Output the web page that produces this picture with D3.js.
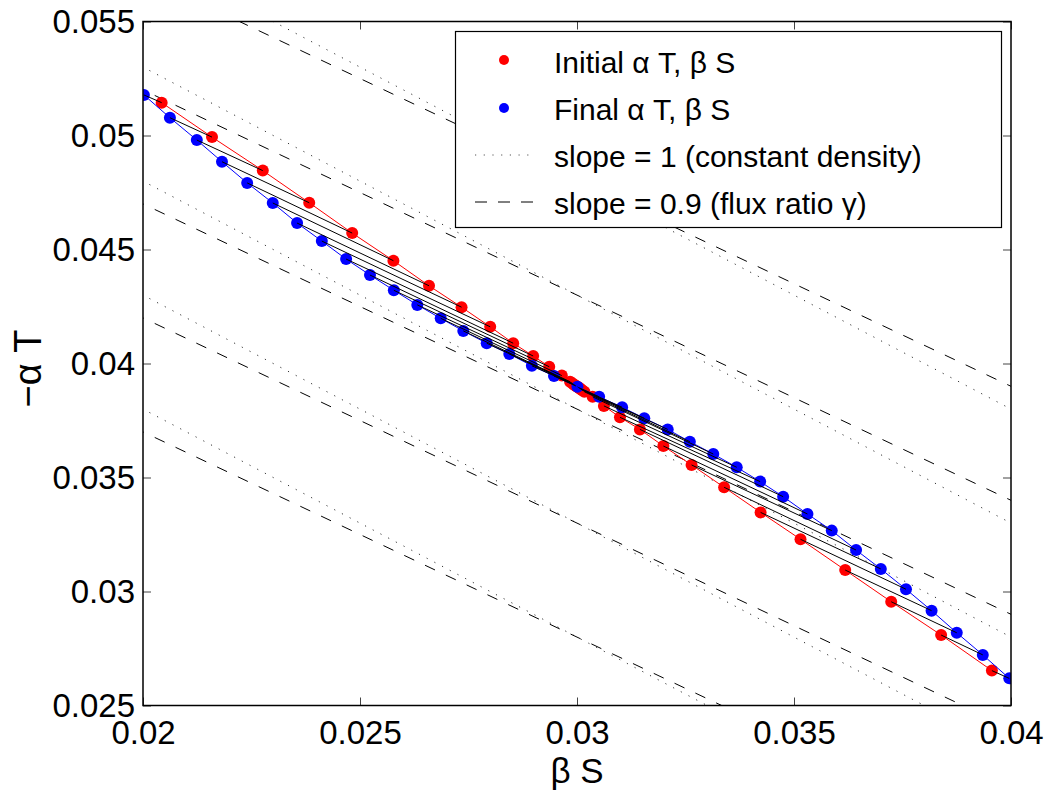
<!DOCTYPE html>
<html>
<head>
<meta charset="utf-8">
<script src="https://cdn.jsdelivr.net/npm/d3@7"></script>
<style>
  html, body { margin: 0; padding: 0; background: #fff; }
  svg { display: block; font-family: "Liberation Sans", Arial, sans-serif; }
</style>
</head>
<body>
<svg id="chart" width="1053" height="790"></svg>
<script>
// Initial profile (beta S, -alpha T)
const initialBetaS = [0.02043, 0.02159, 0.02276, 0.02383, 0.02482, 0.02577, 0.02659, 0.02734, 0.02800, 0.02853, 0.02899, 0.02936, 0.02965, 0.02984,
  0.02988, 0.02992, 0.02995, 0.02998, 0.03000, 0.03003, 0.03006, 0.03009, 0.03012,
  0.03017, 0.03036, 0.03062, 0.03099, 0.03145, 0.03199, 0.03264, 0.03339, 0.03423, 0.03515, 0.03618, 0.03724, 0.03839, 0.03956];
const initialAlphaT = [0.05144, 0.04993, 0.04846, 0.04705, 0.04572, 0.04451, 0.04341, 0.04247, 0.04161, 0.04089, 0.04033, 0.03986, 0.03947, 0.03920,
  0.03915, 0.03909, 0.03905, 0.03901, 0.03899, 0.03895, 0.03891, 0.03887, 0.03883,
  0.03876, 0.03854, 0.03814, 0.03764, 0.03711, 0.03638, 0.03555, 0.03457, 0.03347, 0.03229, 0.03094, 0.02955, 0.02809, 0.02653];

// Final profile (beta S, -alpha T)
const finalBetaS = [0.02002, 0.02062, 0.02124, 0.02182, 0.02240, 0.02299, 0.02355, 0.02412, 0.02468, 0.02523, 0.02578, 0.02632, 0.02686, 0.02738,
  0.02792, 0.02844, 0.02896, 0.02947, 0.03001, 0.03051, 0.03104, 0.03155, 0.03209, 0.03260, 0.03314, 0.03368, 0.03422, 0.03475,
  0.03531, 0.03587, 0.03643, 0.03700, 0.03758, 0.03817, 0.03875, 0.03935, 0.03996];
const finalAlphaT = [0.05178, 0.05078, 0.04980, 0.04885, 0.04792, 0.04704, 0.04616, 0.04537, 0.04458, 0.04388, 0.04321, 0.04257, 0.04198, 0.04143,
  0.04089, 0.04042, 0.03990, 0.03945, 0.03898, 0.03854, 0.03808, 0.03760, 0.03711, 0.03657, 0.03603, 0.03545, 0.03482, 0.03416,
  0.03340, 0.03267, 0.03182, 0.03099, 0.03010, 0.02916, 0.02819, 0.02722, 0.02619];

// Reference lines: value of -alpha T where each line crosses beta S = 0.03
const pivotBetaS = 0.03;
const guideLevels = [0.028, 0.033, 0.038, 0.043, 0.048];
const densitySlope = 1;   // constant density
const fluxSlope = 0.9;    // flux ratio gamma

// Axis ticks
const xTicks = [0.02, 0.025, 0.03, 0.035, 0.04];
const xTickLabels = ["0.02", "0.025", "0.03", "0.035", "0.04"];
const yTicks = [0.025, 0.03, 0.035, 0.04, 0.045, 0.05, 0.055];
const yTickLabels = ["0.025", "0.03", "0.035", "0.04", "0.045", "0.05", "0.055"];

const legendLabels = ["Initial \u03b1 T, \u03b2 S", "Final \u03b1 T, \u03b2 S", "slope = 1 (constant density)", "slope = 0.9 (flux ratio \u03b3)"];

const svg = d3.select("#chart");
const plotLeft = 143, plotRight = 1011, plotTop = 21.5, plotBottom = 705.5;

const x = d3.scaleLinear().domain([0.02, 0.04]).range([plotLeft, plotRight]);
const y = d3.scaleLinear().domain([0.025, 0.055]).range([plotBottom, plotTop]);

svg.append("rect").attr("width", 1053).attr("height", 790).attr("fill", "#fff");

svg.append("defs").append("clipPath").attr("id", "plotClip")
  .append("rect").attr("x", plotLeft).attr("y", plotTop)
  .attr("width", plotRight - plotLeft).attr("height", plotBottom - plotTop);

const plot = svg.append("g").attr("clip-path", "url(#plotClip)");

const line = d3.line().x(d => x(d[0])).y(d => y(d[1]));

// Guide lines with slope -1 (dotted) and -0.9 (dashed)
const xs = [0.015, 0.045];
guideLevels.forEach(level => {
  plot.append("path")
    .attr("d", line(xs.map(b => [b, level - densitySlope * (b - pivotBetaS)])))
    .attr("fill", "none").attr("stroke", "#333").attr("stroke-width", 1)
    .attr("stroke-dasharray", "1.2,7.5");
  plot.append("path")
    .attr("d", line(xs.map(b => [b, level - fluxSlope * (b - pivotBetaS)])))
    .attr("fill", "none").attr("stroke", "#000").attr("stroke-width", 1)
    .attr("stroke-dasharray", "11,12");
});

const initialPts = initialBetaS.map((b, i) => [b, initialAlphaT[i]]);
const finalPts = finalBetaS.map((b, i) => [b, finalAlphaT[i]]);

// Profiles
plot.append("path").attr("d", line(initialPts)).attr("fill", "none").attr("stroke", "#f00").attr("stroke-width", 1);
plot.append("g").selectAll("circle").data(initialPts).join("circle")
  .attr("cx", d => x(d[0])).attr("cy", d => y(d[1])).attr("r", 6).attr("fill", "#f00");

plot.append("path").attr("d", line(finalPts)).attr("fill", "none").attr("stroke", "#00f").attr("stroke-width", 1);
plot.append("g").selectAll("circle").data(finalPts).join("circle")
  .attr("cx", d => x(d[0])).attr("cy", d => y(d[1])).attr("r", 6).attr("fill", "#00f");

// Connectors from each initial point to its final point
plot.append("g").selectAll("path").data(initialPts).join("path")
  .attr("d", (d, i) => line([d, finalPts[i]]))
  .attr("fill", "none").attr("stroke", "#000").attr("stroke-width", 1);

// Axes (ticks pointing inward on all four sides)
const fontSize = 33;
const axB = svg.append("g").attr("transform", `translate(0,${plotBottom})`)
  .call(d3.axisBottom(x).tickValues(xTicks).tickFormat((d, i) => xTickLabels[i]).tickSizeInner(-8).tickSizeOuter(0).tickPadding(15));
const axL = svg.append("g").attr("transform", `translate(${plotLeft},0)`)
  .call(d3.axisLeft(y).tickValues(yTicks).tickFormat((d, i) => yTickLabels[i]).tickSizeInner(-8).tickSizeOuter(0).tickPadding(8));
const axT = svg.append("g").attr("transform", `translate(0,${plotTop})`)
  .call(d3.axisTop(x).tickValues(xTicks).tickFormat("").tickSizeInner(-8).tickSizeOuter(0));
const axR = svg.append("g").attr("transform", `translate(${plotRight},0)`)
  .call(d3.axisRight(y).tickValues(yTicks).tickFormat("").tickSizeInner(-8).tickSizeOuter(0));

[axB, axL, axT, axR].forEach(g => {
  g.select(".domain").remove();
  g.selectAll(".tick line").attr("stroke", "#444").attr("stroke-width", 1);
  g.selectAll(".tick text").attr("fill", "#000")
    .style("font-size", fontSize + "px").style("font-family", "'Liberation Sans', Arial, sans-serif");
});

svg.append("rect").attr("x", plotLeft).attr("y", plotTop)
  .attr("width", plotRight - plotLeft).attr("height", plotBottom - plotTop)
  .attr("fill", "none").attr("stroke", "#000").attr("stroke-width", 1.5);

// Axis titles
svg.append("text").attr("x", x(0.03)).attr("y", 783).attr("text-anchor", "middle")
  .style("font-size", "35px").text("\u03b2 S");
svg.append("text").attr("transform", `translate(41,${(plotTop + plotBottom) / 2 + 5}) rotate(-90)`)
  .attr("text-anchor", "middle").style("font-size", "38px").text("\u2212\u03b1 T");

// Legend
const lg = svg.append("g");
lg.append("rect").attr("x", 455.5).attr("y", 31.5).attr("width", 546).attr("height", 196)
  .attr("fill", "#fff").attr("stroke", "#000").attr("stroke-width", 1.2);
const rowBase = [73, 120, 167, 214];
lg.append("circle").attr("cx", 504).attr("cy", rowBase[0] - 13).attr("r", 5).attr("fill", "#f00");
lg.append("circle").attr("cx", 504).attr("cy", rowBase[1] - 12).attr("r", 5).attr("fill", "#00f");
lg.append("line").attr("x1", 475).attr("x2", 531).attr("y1", rowBase[2] - 12).attr("y2", rowBase[2] - 12)
  .attr("stroke", "#555").attr("stroke-width", 1).attr("stroke-dasharray", "1.2,7.5");
lg.append("line").attr("x1", 475).attr("x2", 534).attr("y1", rowBase[3] - 12).attr("y2", rowBase[3] - 12)
  .attr("stroke", "#000").attr("stroke-width", 1).attr("stroke-dasharray", "12,11");
lg.selectAll("text.lab").data(legendLabels).join("text").attr("class", "lab")
  .attr("x", 554).attr("y", (d, i) => rowBase[i]).style("font-size", "30px").text(d => d);
</script>
</body>
</html>
